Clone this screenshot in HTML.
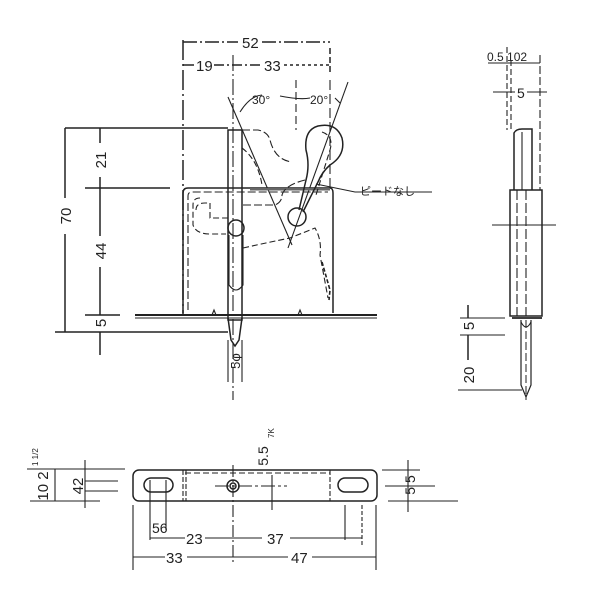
<!DOCTYPE html>
<html><head><meta charset="utf-8"><style>
html,body{margin:0;padding:0;background:#fff;width:600px;height:600px;overflow:hidden}
svg{display:block}
text{font-family:"Liberation Sans","Noto Sans CJK JP",sans-serif;fill:#222}
</style></head><body>
<svg width="600" height="600" viewBox="0 0 600 600" xmlns="http://www.w3.org/2000/svg">
<g fill="none" stroke="#222" stroke-width="1.5">
<!-- ===== main view ===== -->
<line x1="183" y1="42" x2="238" y2="42" stroke-dasharray="14,3,2,3"/>
<line x1="262" y1="42" x2="330" y2="42" stroke-dasharray="14,3,2,3"/>
<line x1="183" y1="65" x2="194" y2="65"/>
<line x1="214" y1="65" x2="262" y2="65" stroke-dasharray="10,3,2,3"/>
<line x1="284" y1="65" x2="330" y2="65" stroke-dasharray="3,3"/>
<line x1="183" y1="40" x2="183" y2="315" stroke-dasharray="20,4,2,4"/>
<line x1="330" y1="48" x2="330" y2="75" stroke-dasharray="6,3"/>
<line x1="233" y1="55" x2="233" y2="400" stroke-dasharray="16,3,2,3" stroke-width="1.1"/>
<line x1="296" y1="80" x2="296" y2="130" stroke-dasharray="8,4" stroke-width="1.1"/>
<line x1="330" y1="80" x2="330" y2="188" stroke-dasharray="10,4" stroke-width="1.1"/>
<line x1="228" y1="97" x2="292" y2="245" stroke-width="1.1"/>
<line x1="348" y1="82" x2="288" y2="248" stroke-width="1.1"/>
<path d="M240 112 Q250 96 262 95 M280 96 Q300 100 310 98 M335 98 L340 103" stroke-width="1.1"/>
<line x1="65" y1="128" x2="228" y2="128"/>
<line x1="65" y1="128" x2="65" y2="198"/>
<line x1="65" y1="234" x2="65" y2="332"/>
<line x1="55" y1="332" x2="228" y2="332"/>
<line x1="100" y1="128" x2="100" y2="143"/>
<line x1="100" y1="177" x2="100" y2="236"/>
<line x1="100" y1="267" x2="100" y2="315"/>
<line x1="100" y1="332" x2="100" y2="355"/>
<line x1="85" y1="188" x2="170" y2="188"/>
<line x1="85" y1="315" x2="120" y2="315"/>
<path d="M183 313 L183 193 Q183 188 188 188 L330 188 Q333 188 333 193 L333 313"/>
<path d="M188 310 L188 196 Q188 192 192 192 L328 192" stroke-width="1.1" stroke-dasharray="8,3"/>
<rect x="250" y="188" width="80" height="2.5" fill="#666" stroke="none"/>
<line x1="135" y1="315" x2="377" y2="315" stroke-width="2"/>
<line x1="135" y1="318" x2="377" y2="318" stroke-width="1.1"/>
<path d="M212 315 L214 310 L216 315 M298 315 L300 310 L302 315" stroke-width="1.1"/>
<rect x="228" y="130" width="14" height="190"/>
<path d="M228 318 L231 340 L235 346 L239 340 L242 318"/>
<circle cx="236" cy="228" r="8"/>
<path d="M229 235 L229 285 Q236 295 243 285 L243 235" stroke-width="1.1"/>
<line x1="228" y1="340" x2="228" y2="382" stroke-width="1.1"/>
<line x1="242" y1="340" x2="242" y2="382" stroke-width="1.1"/>
<path d="M200 198 Q193 198 193 205 L193 225 Q196 234 210 234 L226 234 M196 210 Q196 203 205 203 L210 203 L210 218 L228 218" stroke-dasharray="6,3" stroke-width="1.1"/>
<path d="M242 130 L258 130 Q268 132 270 140 Q275 160 292 162" stroke-dasharray="8,3" stroke-width="1.1"/>
<path d="M243 205 L275 205 Q282 202 282 195 Q285 185 305 180" stroke-dasharray="8,3" stroke-width="1.1"/>
<path d="M243 248 Q270 242 290 238 L315 228 Q322 240 320 255 L328 298" stroke-dasharray="6,3" stroke-width="1.1"/>
<path d="M242 148 Q258 160 262 185" stroke-dasharray="6,3" stroke-width="1.1"/>
<path d="M322 262 L330 290 L329 300" stroke-width="1.6" stroke-dasharray="4,2"/>
<!-- lever -->
<path d="M299 210 L306 180 Q310 165 306 150 Q304 130 318 126 Q336 122 342 138 Q346 155 330 165 Q322 172 318 182 L303 212"/>
<path d="M322 132 Q334 136 330 150 L316 195" stroke-dasharray="6,3" stroke-width="1.1"/>
<circle cx="297" cy="217" r="9"/>
<path d="M316 184 L355 192 L432 192" stroke-width="1.1"/>
<!-- ===== right view ===== -->
<line x1="488" y1="63" x2="540" y2="63" stroke-width="1.1"/>
<line x1="493" y1="92" x2="515" y2="92" stroke-width="1.1"/>
<line x1="527" y1="92" x2="547" y2="92" stroke-width="1.1"/>
<line x1="507" y1="47" x2="507" y2="130" stroke-dasharray="6,3" stroke-width="1.1"/>
<line x1="511" y1="60" x2="511" y2="130" stroke-dasharray="6,3" stroke-width="1.1"/>
<line x1="540" y1="55" x2="540" y2="190" stroke-dasharray="8,3" stroke-width="1.1"/>
<path d="M514 190 L514 133 Q516 129 522 129 L532 129 L532 190"/>
<line x1="522" y1="132" x2="522" y2="190" stroke-width="1.1"/>
<rect x="510" y="190" width="32" height="126"/>
<line x1="517" y1="190" x2="517" y2="316" stroke-width="1.1" stroke-dasharray="10,3"/>
<line x1="526" y1="190" x2="526" y2="316" stroke-width="1.1" stroke-dasharray="10,3"/>
<line x1="492" y1="225" x2="556" y2="225" stroke-width="1.1"/>
<line x1="512" y1="318" x2="542" y2="318" stroke-width="1.8"/>
<path d="M521 320 L521 385 L526 397 L531 385 L531 320" stroke-width="1.2"/>
<path d="M521 322 Q526 332 531 322" stroke-width="1.1"/>
<line x1="526" y1="320" x2="526" y2="400" stroke-dasharray="8,3" stroke-width="1"/>
<line x1="468" y1="305" x2="468" y2="318"/>
<line x1="468" y1="335" x2="468" y2="360"/>
<line x1="460" y1="318" x2="505" y2="318" stroke-width="1.1"/>
<line x1="460" y1="335" x2="505" y2="335" stroke-width="1.1"/>
<line x1="458" y1="390" x2="522" y2="390" stroke-width="1.1"/>
<!-- ===== bottom view ===== -->
<rect x="133" y="470" width="244" height="31" rx="6"/>
<rect x="144" y="478" width="29" height="14" rx="7"/>
<rect x="338" y="478" width="30" height="14" rx="7"/>
<circle cx="233" cy="486" r="6"/>
<circle cx="233" cy="486" r="3"/>
<line x1="183" y1="470" x2="183" y2="501" stroke-dasharray="5,2" stroke-width="1.1"/>
<line x1="186" y1="470" x2="186" y2="501" stroke-dasharray="5,2" stroke-width="1.1"/>
<line x1="330" y1="470" x2="330" y2="501" stroke-dasharray="5,2" stroke-width="1.1"/>
<line x1="185" y1="473" x2="330" y2="473" stroke-dasharray="6,3" stroke-width="1.1"/>
<line x1="215" y1="486" x2="287" y2="486" stroke-dasharray="14,3,3,3" stroke-width="1.1"/>
<line x1="233" y1="465" x2="233" y2="565" stroke-dasharray="12,3,2,3" stroke-width="1.1"/>
<line x1="272" y1="475" x2="272" y2="510" stroke-width="1.1"/>
<line x1="27" y1="469" x2="125" y2="469" stroke-width="1.1"/>
<line x1="30" y1="501" x2="100" y2="501" stroke-width="1.1"/>
<line x1="55" y1="469" x2="55" y2="501" stroke-width="1.1"/>
<line x1="85" y1="460" x2="85" y2="508" stroke-width="1.1"/>
<line x1="85" y1="481" x2="118" y2="481" stroke-width="1.1"/>
<line x1="85" y1="491" x2="118" y2="491" stroke-width="1.1"/>
<line x1="150" y1="480" x2="150" y2="540" stroke-width="1.1"/>
<line x1="166" y1="480" x2="166" y2="530" stroke-width="1.1"/>
<line x1="133" y1="505" x2="133" y2="570" stroke-width="1.1"/>
<line x1="376" y1="505" x2="376" y2="570" stroke-width="1.1"/>
<line x1="345" y1="505" x2="345" y2="540" stroke-width="1.1"/>
<line x1="362" y1="505" x2="362" y2="545" stroke-width="1.1" stroke-dasharray="4,2"/>
<line x1="150" y1="538" x2="185" y2="538" stroke-width="1.1"/>
<line x1="205" y1="538" x2="262" y2="538" stroke-width="1.1"/>
<line x1="290" y1="538" x2="362" y2="538" stroke-width="1.1"/>
<line x1="133" y1="557" x2="165" y2="557" stroke-width="1.1"/>
<line x1="187" y1="557" x2="288" y2="557" stroke-width="1.1"/>
<line x1="312" y1="557" x2="376" y2="557" stroke-width="1.1"/>
<line x1="382" y1="470" x2="420" y2="470" stroke-width="1.1"/>
<line x1="385" y1="486" x2="435" y2="486" stroke-width="1.1"/>
<line x1="388" y1="501" x2="458" y2="501" stroke-width="1.1"/>
<line x1="408" y1="460" x2="408" y2="512" stroke-width="1.1"/>
</g>
<g font-size="15">
<text x="242" y="48">52</text>
<text x="196" y="71">19</text>
<text x="264" y="71">33</text>
<text x="252" y="104" font-size="12">30°</text>
<text x="310" y="104" font-size="12">20°</text>
<text x="360" y="195" font-size="11">ピードなし</text>
<text transform="translate(71,216) rotate(-90)" text-anchor="middle">70</text>
<text transform="translate(106,160) rotate(-90)" text-anchor="middle">21</text>
<text transform="translate(106,251) rotate(-90)" text-anchor="middle">44</text>
<text transform="translate(106,323) rotate(-90)" text-anchor="middle">5</text>
<text transform="translate(240,361) rotate(-90)" text-anchor="middle" font-size="13">5φ</text>
<text x="487" y="61" font-size="12">0.5 102</text>
<text x="517" y="98" font-size="14">5</text>
<text transform="translate(474,326) rotate(-90)" text-anchor="middle">5</text>
<text transform="translate(474,375) rotate(-90)" text-anchor="middle">20</text>
<text transform="translate(48,486) rotate(-90)" text-anchor="middle">10 2</text>
<text transform="translate(83,486) rotate(-90)" text-anchor="middle">42</text>
<text transform="translate(38,466) rotate(-90)" font-size="8">1 1/2</text>
<text transform="translate(268,456) rotate(-90)" text-anchor="middle" font-size="14">5.5</text>
<text transform="translate(274,438) rotate(-90)" font-size="8">7K</text>
<text transform="translate(415,485) rotate(-90)" text-anchor="middle" font-size="14">5 5</text>
<text x="152" y="533" font-size="14">56</text>
<text x="186" y="544">23</text>
<text x="267" y="544">37</text>
<text x="166" y="563">33</text>
<text x="291" y="563">47</text>
</g>
</svg>
</body></html>
